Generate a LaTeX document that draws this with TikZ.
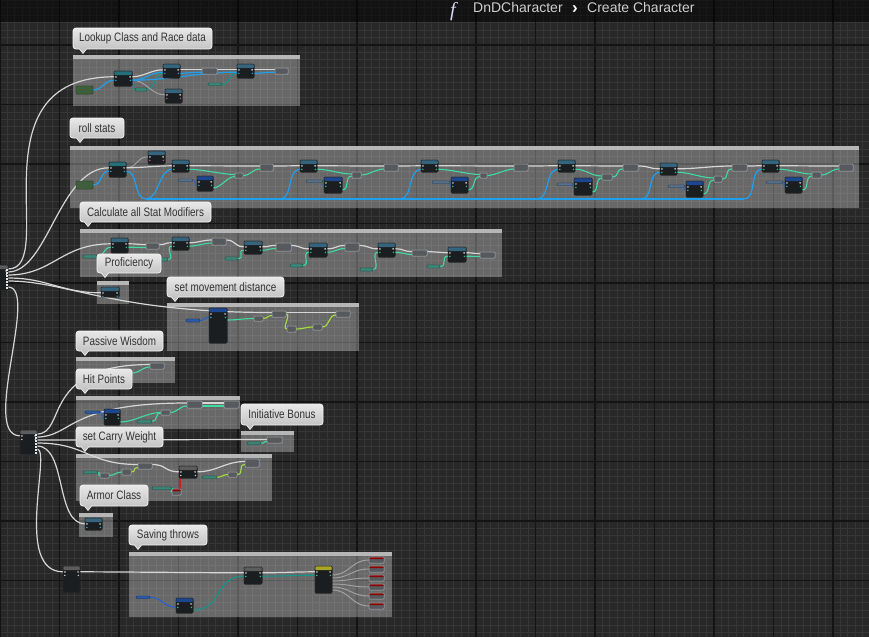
\documentclass[tikz,border=0pt]{standalone}
\usepackage{fontspec}
\setmainfont{Liberation Sans}
\newfontfamily\bubfont{Liberation Sans}[FakeStretch=0.81]
\newfontfamily\ficonfont{Liberation Serif}
\usetikzlibrary{calc}
\definecolor{bg}{HTML}{282828}
\definecolor{gmin}{HTML}{363636}
\definecolor{gmaj}{HTML}{141414}
\definecolor{ndbody}{HTML}{1B1E20}
\definecolor{hteal}{HTML}{23707A}
\definecolor{hsteel}{HTML}{35657E}
\definecolor{hblue}{HTML}{1D4690}
\definecolor{hgray}{HTML}{5C5C5C}
\definecolor{hyel}{HTML}{A8A622}
\definecolor{smfill}{HTML}{565A5E}
\definecolor{smedge}{HTML}{9A9C9E}
\definecolor{vgreen}{HTML}{3F5F3C}
\definecolor{vsteel}{HTML}{56708A}
\definecolor{vteal}{HTML}{3A8677}
\definecolor{vblue}{HTML}{2D5AA5}
\definecolor{wex}{HTML}{D6D6D6}
\definecolor{wblue}{HTML}{1FA0EE}
\definecolor{wmint}{HTML}{3FDCA2}
\definecolor{wyel}{HTML}{A5E03A}
\definecolor{wteal}{HTML}{12968A}
\definecolor{wdblue}{HTML}{2360D0}
\definecolor{wred}{HTML}{CC1F1F}
\definecolor{bubtop}{HTML}{E8E8E8}
\definecolor{bubbot}{HTML}{C4C4C4}
\definecolor{bubedge}{HTML}{F4F4F4}
\definecolor{bubtext}{HTML}{333333}
\definecolor{cmtbar}{HTML}{B6B6B6}
\definecolor{pinw}{HTML}{E6E6E6}
\definecolor{pinB}{HTML}{3AB5FF}
\definecolor{pinG}{HTML}{3FDCA2}
\definecolor{ficon}{HTML}{D4DAF8}
\definecolor{titc}{HTML}{CFCFCF}
\tikzset{
  nd/.style={draw=black!85, fill=ndbody, rounded corners=1pt, line width=0.5pt, inner sep=0pt, outer sep=0pt},
  hdr/.style 2 args={nd, path picture={
    \fill[#1] (path picture bounding box.north west) rectangle ([yshift=-4pt]path picture bounding box.north east);
    \fill[pinw] ([xshift=1pt,yshift=-5pt]path picture bounding box.north west) rectangle ++(1.8pt,-1.8pt);
    \fill[pinw] ([xshift=-2.8pt,yshift=-5pt]path picture bounding box.north east) rectangle ++(1.8pt,-1.8pt);
    \fill[#2] ([xshift=1pt,yshift=-8.5pt]path picture bounding box.north west) rectangle ++(1.5pt,-1.5pt);
    \fill[#2] ([xshift=-2.5pt,yshift=-8.5pt]path picture bounding box.north east) rectangle ++(1.5pt,-1.5pt);
  }},
  sm/.style={draw=smedge, fill=smfill, rounded corners=0.8pt, line width=0.5pt, inner sep=0pt, outer sep=0pt},
  smred/.style={sm, path picture={\fill[red!55!black] (path picture bounding box.north west) rectangle ([yshift=-2pt]path picture bounding box.north east);}},
  vr/.style={draw=#1!60!black, fill=#1, rounded corners=1.2pt, line width=0.4pt, inner sep=0pt, outer sep=0pt},
  cmt/.style={fill=white, fill opacity=0.3, draw=none, inner sep=0pt, outer sep=0pt},
  bubble/.style={top color=bubtop, bottom color=bubbot, draw=bubedge, line width=0.8pt, rounded corners=3pt, inner sep=0pt, outer sep=0pt, text=bubtext, font=\bubfont\fontsize{12.2}{13}\selectfont},
  ex/.style={draw=wex, line width=1.2pt},
  exd/.style={draw=wex!75!black, line width=1pt},
  wb/.style={draw=wblue, line width=1.2pt},
  wg/.style={draw=wmint, line width=1.1pt},
  wy/.style={draw=wyel, line width=1.1pt},
  wt/.style={draw=wteal, line width=1.1pt},
  wd/.style={draw=wdblue, line width=1.1pt},
  wbl/.style={draw=wdblue!80!vsteel, line width=1pt},
  wrd/.style={draw=wred, line width=1.1pt},
  gmn/.style={draw=gmin, line width=0.8pt},
  gmj/.style={draw=gmaj, line width=1.4pt}
}
\newcommand\bpbox[6]{%
  \node[#6, minimum width={(#4-#2)*1pt}, minimum height={(#5-#3)*1pt}] (#1) at ({(#2+#4)/2},{(#3+#5)/2}) {};%
  \coordinate (#1-ei) at ([yshift=-5.8pt]#1.north west);%
  \coordinate (#1-eo) at ([yshift=-5.8pt]#1.north east);%
  \coordinate (#1-di) at ([yshift=-9.2pt]#1.north west);%
  \coordinate (#1-do) at ([yshift=-9.2pt]#1.north east);}
\newcommand\bpcmt[5]{%
  \node[cmt, minimum width={(#4-#2)*1pt}, minimum height={(#5-#3)*1pt}] (#1) at ({(#2+#4)/2},{(#3+#5)/2}) {};%
  \fill[cmtbar] (#1.north west) rectangle ([yshift=-4pt]#1.north east);}
\newcommand\bpbub[7]{%
  \node[bubble, minimum width={(#4-#2)*1pt}, minimum height={(#5-#3)*1pt}] (#1) at ({(#2+#4)/2},{(#3+#5)/2}) {#7};%
  \filldraw[fill=bubbot, draw=bubedge, line width=0.6pt] ({#6-3.5},{#5+0.2}) -- ({#6},{#5+4.5}) -- ({#6+3.5},{#5+0.2});%
  \fill[bubbot] ({#6-3},{#5-0.6}) rectangle ({#6+3},{#5+0.3});}
\newcommand\bpw[4]{\draw[#1] (#2) .. controls +(#4,0) and +(-#4,0) .. (#3);}
\newcommand\allnodes{%
\bpbox{Q1}{-12}{265}{8}{290}{hdr={hgray}{pinw}}
\bpbox{Q2}{20}{430}{37}{454}{hdr={hgray}{pinw}}
\bpbox{L1}{76}{86}{93}{94}{vr=vgreen}
\bpbox{LA}{114}{71}{132}{86}{hdr={hteal}{pinB}}
\bpbox{LB}{163}{64}{180}{78}{hdr={hsteel}{pinB}}
\bpbox{Ls1}{202}{68}{217}{74}{sm}
\bpbox{LC}{237}{64}{254}{78}{hdr={hsteel}{pinB}}
\bpbox{Ls2}{275}{68}{288}{74}{sm}
\bpbox{LD}{165}{89}{182}{103}{hdr={hsteel}{magenta!70}}
\bpbox{Lv1}{135}{88}{147}{91}{vr=vteal}
\bpbox{Lv2}{208}{83}{222}{85.5}{vr=vteal}
\bpbox{R0}{76}{181}{93}{189}{vr=vgreen}
\bpbox{R1}{109}{162}{126}{177}{hdr={hteal}{pinB}}
\bpbox{R2}{148}{151}{165}{164}{hdr={hsteel}{magenta!70}}
\bpbox{N1}{172}{160}{189}{172}{hdr={hsteel}{pinG}}
\bpbox{V1}{178}{179}{193}{181.5}{vr=vsteel}
\bpbox{B1}{197}{176}{213}{191}{hdr={hblue}{pinG}}
\bpbox{M1}{235}{173}{243}{178}{sm}
\bpbox{S1}{260}{164}{273}{171}{sm}
\bpbox{N2}{300}{160}{317}{172}{hdr={hsteel}{pinG}}
\bpbox{V2}{306}{180}{323}{182.5}{vr=vsteel}
\bpbox{B2}{324}{177}{342}{193}{hdr={hblue}{pinG}}
\bpbox{M2}{352}{172}{361}{178}{sm}
\bpbox{S2}{384}{164}{398}{171}{sm}
\bpbox{N3}{421}{160}{438}{172}{hdr={hsteel}{pinG}}
\bpbox{V3}{432}{181}{450}{183.5}{vr=vsteel}
\bpbox{B3}{451}{177}{468}{193}{hdr={hblue}{pinG}}
\bpbox{M3}{480}{173}{487}{178}{sm}
\bpbox{S3}{514}{164}{528}{171}{sm}
\bpbox{N4}{558}{160}{575}{172}{hdr={hsteel}{pinG}}
\bpbox{V4}{557}{183}{573}{185.5}{vr=vsteel}
\bpbox{B4}{574}{178}{592}{195}{hdr={hblue}{pinG}}
\bpbox{M4}{602}{174}{612}{180}{sm}
\bpbox{S4}{623}{164}{638}{171}{sm}
\bpbox{N5}{660}{163}{677}{175}{hdr={hsteel}{pinG}}
\bpbox{V5}{668}{185}{685}{187.5}{vr=vsteel}
\bpbox{B5}{686}{181}{703}{197}{hdr={hblue}{pinG}}
\bpbox{M5}{714}{176}{722}{182}{sm}
\bpbox{S5}{732}{164}{747}{171}{sm}
\bpbox{N6}{762}{160}{779}{172}{hdr={hsteel}{pinG}}
\bpbox{V6}{766}{181}{783}{183.5}{vr=vsteel}
\bpbox{B6}{785}{177}{802}{193}{hdr={hblue}{pinG}}
\bpbox{M6}{812}{172}{821}{178}{sm}
\bpbox{S6}{839}{164}{853}{171}{sm}
\bpbox{K1}{111}{238}{128}{253}{hdr={hsteel}{pinG}}
\bpbox{KV1}{83}{255}{97}{258}{vr=vteal}
\bpbox{KS1}{146}{243}{159}{249}{sm}
\bpbox{K2}{172}{237}{189}{250}{hdr={hsteel}{pinG}}
\bpbox{KV2}{155}{258}{168}{261}{vr=vteal}
\bpbox{KS2}{212}{238}{226}{245}{sm}
\bpbox{K3}{244}{241}{262}{254}{hdr={hsteel}{pinG}}
\bpbox{KV3}{225}{257}{238}{260}{vr=vteal}
\bpbox{KS3}{276}{243}{291}{251}{sm}
\bpbox{K4}{309}{243}{327}{257}{hdr={hsteel}{pinG}}
\bpbox{KV4}{290}{264}{303}{267}{vr=vteal}
\bpbox{KS4}{345}{243}{359}{251}{sm}
\bpbox{K5}{378}{243}{395}{257}{hdr={hsteel}{pinG}}
\bpbox{KV5}{360}{268}{373}{271}{vr=vteal}
\bpbox{KS5}{412}{250}{427}{256}{sm}
\bpbox{K6}{448}{247}{466}{262}{hdr={hsteel}{pinG}}
\bpbox{KV6}{427}{265}{440}{268}{vr=vteal}
\bpbox{KS6}{480}{252}{495}{258}{sm}
\bpbox{P1}{101}{287}{119}{297}{hdr={hsteel}{pinB}}
\bpbox{Mv}{186}{319}{200}{322}{vr=vblue}
\bpbox{MT}{209}{308}{227}{343}{hdr={hblue}{pinG}}
\bpbox{Ms1}{254}{316}{263}{321}{sm}
\bpbox{Ms2}{272}{311}{286}{317}{sm}
\bpbox{Ms3}{287}{326}{296}{332}{sm}
\bpbox{Ms4}{313}{324}{322}{330}{sm}
\bpbox{Ms5}{336}{311}{350}{317}{sm}
\bpbox{Pw}{105}{371}{120}{374}{vr=vteal}
\bpbox{Ps1}{124}{370}{132}{376}{sm}
\bpbox{Ps2}{150}{363}{164}{369}{sm}
\bpbox{Hv}{85}{411}{100}{413.5}{vr=vblue}
\bpbox{HB}{104}{409}{120}{425}{hdr={hblue}{pinG}}
\bpbox{Hs1}{161}{410}{170}{415}{sm}
\bpbox{Hv2}{137}{420}{152}{423}{vr=vteal}
\bpbox{Hs2}{187}{401}{202}{408}{sm}
\bpbox{Hs3}{224}{401}{239}{408}{sm}
\bpbox{Is}{267}{437}{282}{443}{sm}
\bpbox{Iv}{247}{442}{261}{444.5}{vr=vteal}
\bpbox{Cv}{83}{471}{98}{473.5}{vr=vteal}
\bpbox{Cs1}{100}{473}{109}{478}{sm}
\bpbox{Cs2}{122}{469}{131}{475}{sm}
\bpbox{Cs3}{138}{463}{152}{469}{sm}
\bpbox{CN}{179}{466}{197}{478}{hdr={hgray}{pinw}}
\bpbox{Cv2}{152}{487}{172}{489.5}{vr=vteal}
\bpbox{Cs4}{172}{489}{181}{495}{smred}
\bpbox{Cv3}{202}{476}{217}{478.5}{vr=vteal}
\bpbox{Cs5}{228}{472}{237}{477}{sm}
\bpbox{Cs6}{245}{459}{259}{467}{sm}
\bpbox{A1}{85}{518}{102}{530}{hdr={hsteel}{pinB}}
\bpbox{S0}{63}{566}{80}{592}{hdr={hgray}{pinw}}
\bpbox{Sv}{136}{596}{150}{598.5}{vr=vblue}
\bpbox{SB}{176}{598}{193}{613}{hdr={hblue}{pinG}}
\bpbox{SN}{244}{567}{262}{584}{hdr={hgray}{pinG}}
\bpbox{SY}{315}{566}{332}{593}{hdr={hyel}{pinG}}
\foreach \k/\yy in {1/557,2/566,3/575,4/584,5/593,6/603}{
  \bpbox{Sr\k}{369}{\yy}{384}{\yy+6}{smred}
}}
\begin{document}
\begin{tikzpicture}[x=1pt,y=-1pt]
\useasboundingbox (0,0) rectangle (869,637);
% background and grid
\fill[bg] (0,0) rectangle (869,637);
\foreach \i in {0,...,117} \draw[gmn] ({\i*7.4375},0) -- ({\i*7.4375},637);
\foreach \j in {-6,...,80} \draw[gmn] (0,{45+\j*7.4375}) -- (869,{45+\j*7.4375});
\foreach \i in {0,...,14} \draw[gmj] ({\i*59.5},0) -- ({\i*59.5},637);
\foreach \j in {0,...,9} \draw[gmj] (0,{45+\j*59.5}) -- (869,{45+\j*59.5});
% top banner
\fill[black, opacity=0.55] (0,0) rectangle (869,22);
\node[anchor=base west, inner sep=0pt, text=ficon, font=\ficonfont\itshape\fontsize{20}{20}\selectfont] (fic) at (450,16.5) {f};
\node[anchor=base west, inner sep=0pt, text=titc, font=\fontsize{14}{14}\selectfont] (tt1) at (473,12.5) {DnDCharacter};
\node[anchor=base west, inner sep=0pt, text=white, font=\bfseries\fontsize{17}{17}\selectfont] (tt2) at (572,13) {›};
\node[anchor=base west, inner sep=0pt, text=titc, font=\fontsize{14}{14}\selectfont] (tt3) at (587,12.5) {Create Character};

% comment boxes
\bpcmt{C1}{73}{55}{300}{106}
\bpcmt{C2}{70}{146}{859}{208}
\bpcmt{C3}{80}{229}{502}{277}
\bpcmt{C4}{97}{281}{129}{304}
\bpcmt{C5}{167}{303}{359}{351}
\bpcmt{C6}{76}{357}{175}{383}
\bpcmt{C7}{76}{396}{240}{429}
\bpcmt{C8}{241}{431}{294}{452}
\bpcmt{C9}{76}{454}{272}{501}
\bpcmt{C10}{79}{513}{113}{537}
\bpcmt{C11}{129}{552}{392}{617}

% nodes first (for anchors)
\allnodes
\foreach \k/\n in {4/a,7/b,10/c,13/d,16/e,19/f,22/g} \coordinate (q1\n) at ([yshift=-\k pt]Q1.north east);
\foreach \k/\n in {4/a,7/b,10/c,13/d,16/e,19/f,22/g} \coordinate (q2\n) at ([yshift=-\k pt]Q2.north east);

% ---------- wires ----------
% from sequence 1
\draw[ex] (q1a) .. controls +(52,0) and +(-144,0) .. (LA-ei);
\draw[ex] (q1b) .. controls +(40,0) and +(-50,0) .. (R1-ei);
\draw[ex] (q1c) .. controls +(45,0) and +(-50,0) .. (K1-ei);
\draw[ex] (q1d) .. controls +(40,0) and +(-40,0) .. (P1-ei);
\draw[ex] (q1e) .. controls +(60,0) and +(-160,0) .. ([yshift=1.5pt]Ms2.west);
\draw[ex] (q1g) .. controls +(32,0) and +(-40,0) .. (Q2-ei);
% from sequence 2
\draw[ex] (q2a) .. controls +(30,0) and +(-110,0) .. ([yshift=1.5pt]Ps2.west);
\draw[ex] (q2b) .. controls +(35,0) and +(-120,0) .. ([yshift=1.5pt]Hs2.west);
\draw[ex] (q2c) .. controls +(60,0) and +(-60,0) .. ([yshift=0.5pt]Is.west);
\draw[ex] (q2d) .. controls +(50,0) and +(-50,0) .. ([yshift=1.5pt]Cs3.west);
\draw[ex] (q2e) .. controls +(30,0) and +(-30,0) .. (A1-ei);
\draw[ex] (q2f) .. controls +(15,0) and +(-50,0) .. (S0-ei);

% Lookup wires
\bpw{wt}{[yshift=-12pt]LA.north east}{Lv1.west}{4}
\bpw{wt}{Lv1.east}{LB-di}{8}
\bpw{wt}{Lv2.east}{LC-di}{8}
\bpw{exd}{LA-do}{LD-ei}{15}
\bpw{wb}{L1.east}{LA-di}{10}
\bpw{wb}{LA-do}{[yshift=1pt]LB-di}{14}
\bpw{wb}{LA-do}{[yshift=1pt]LC-di}{40}
\bpw{wb}{LB-do}{[yshift=-1.2pt]Ls1.west}{8}
\bpw{wb}{LC-do}{[yshift=-1.2pt]Ls2.west}{8}
\bpw{ex}{LA-eo}{LB-ei}{12}
\bpw{ex}{LB-eo}{[yshift=1.2pt]Ls1.west}{10}
\bpw{ex}{[yshift=1.2pt]Ls1.east}{LC-ei}{10}
\bpw{ex}{LC-eo}{[yshift=1.2pt]Ls2.west}{10}

% Roll stats wires
\coordinate (rb0) at (146,199);
\coordinate (rb1) at (280,199);
\coordinate (rb2) at (400,199);
\coordinate (rb3) at (537,199);
\coordinate (rb4) at (641,199);
\coordinate (rb5) at (744,199);
\bpw{wb}{R0.east}{R1-di}{10}
\bpw{wb}{R1-do}{rb0}{13}
\bpw{wb}{rb0}{N1-di}{13}
\draw[wb] (rb0) -- (rb5);
\bpw{wb}{rb1}{N2-di}{13}
\bpw{wb}{rb2}{N3-di}{13}
\bpw{wb}{rb3}{N4-di}{13}
\bpw{wb}{rb4}{N5-di}{13}
\bpw{wb}{rb5}{N6-di}{13}
\bpw{exd}{R1-eo}{R2-ei}{12}
\bpw{ex}{R1-eo}{N1-ei}{15}
\foreach \i/\j in {1/2,2/3,3/4,4/5,5/6}{
  \bpw{ex}{[yshift=1.5pt]S\i.east}{N\j-ei}{12}
}
\foreach \i in {1,...,6}{
  \bpw{wbl}{V\i.east}{B\i-di}{4}
  \bpw{wg}{N\i-do}{[yshift=1pt]M\i.west}{12}
  \bpw{wg}{[yshift=3pt]B\i.south east}{[yshift=-1pt]M\i.west}{8}
  \bpw{wg}{M\i.east}{[yshift=-1.5pt]S\i.west}{8}
  \bpw{ex}{N\i-eo}{[yshift=1.5pt]S\i.west}{20}
}

% Calc stat modifier wires
\foreach \i in {1,...,6}{
  \bpw{wg}{KV\i.east}{K\i-di}{8}
  \bpw{wg}{K\i-do}{[yshift=-1.5pt]KS\i.west}{8}
  \bpw{ex}{K\i-eo}{[yshift=1.5pt]KS\i.west}{10}
}
\foreach \i/\j in {1/2,2/3,3/4,4/5,5/6}{
  \bpw{ex}{[yshift=1.5pt]KS\i.east}{K\j-ei}{10}
}

% movement wires
\bpw{wd}{Mv.east}{MT-di}{6}
\bpw{wg}{[yshift=-12pt]MT.north east}{Ms1.west}{10}
\bpw{wy}{Ms1.east}{[yshift=-1.5pt]Ms2.west}{5}
\bpw{wy}{Ms2.east}{Ms3.west}{6}
\bpw{wy}{Ms3.east}{Ms4.west}{8}
\bpw{wy}{Ms4.east}{[yshift=-1pt]Ms5.west}{8}
\bpw{ex}{[yshift=1.5pt]Ms2.east}{[yshift=1.5pt]Ms5.west}{15}

% passive wisdom
\bpw{wg}{Pw.east}{Ps1.west}{3}
\bpw{wg}{Ps1.east}{[yshift=-1pt]Ps2.west}{8}

% hit points
\bpw{wd}{Hv.east}{HB-di}{3}
\bpw{wg}{[yshift=3pt]HB.south east}{Hs1.west}{15}
\bpw{wg}{Hv2.east}{Hs1.west}{6}
\bpw{wg}{Hs1.east}{[yshift=-1.5pt]Hs2.west}{8}
\bpw{ex}{[yshift=1.5pt]Hs2.east}{[yshift=1.5pt]Hs3.west}{10}
\bpw{wg}{[yshift=-1.5pt]Hs2.east}{[yshift=-1.5pt]Hs3.west}{10}

% initiative
\bpw{wg}{Iv.east}{[yshift=-1.5pt]Is.west}{4}

% carry weight
\bpw{wg}{Cv.east}{Cs1.west}{3}
\bpw{wg}{Cs1.east}{Cs2.west}{6}
\bpw{wy}{Cs2.east}{[yshift=-1.5pt]Cs3.west}{6}
\bpw{ex}{[yshift=1.5pt]Cs3.east}{CN-ei}{15}
\bpw{wg}{Cv2.east}{Cs4.west}{3}
\draw[wrd] ([xshift=3.5pt]Cs4.north) -- ([xshift=3.5pt]Cs4.north |- CN.south);
\bpw{ex}{CN-eo}{[yshift=1.5pt]Cs6.west}{20}
\bpw{wy}{Cv3.east}{Cs5.west}{5}
\bpw{wy}{Cs5.east}{[yshift=-1.5pt]Cs6.west}{8}

% saving throws
\bpw{ex}{S0-eo}{SN-ei}{30}
\bpw{ex}{SN-eo}{SY-ei}{20}
\bpw{wd}{Sv.east}{SB-di}{12}
\bpw{wt}{[yshift=3pt]SB.south east}{SN-di}{30}
\bpw{wt}{SN-do}{SY-di}{20}
\foreach \k in {1,...,6}{
  \bpw{exd}{[yshift={-(6+\k*3)*1pt}]SY.north east}{Sr\k.west}{18}
}

% ---------- nodes again, on top of the wires ----------
\allnodes
\foreach \k in {4,7,10,13,16,19,22}{
  \fill[pinw] ([yshift=-\k pt]Q1.north east) rectangle ++(-2pt,-1.5pt);
  \fill[pinw] ([yshift=-\k pt]Q2.north east) rectangle ++(-2pt,-1.5pt);
}

% ---------- comment bubbles ----------
\bpbub{T1}{73}{28}{212}{49}{83}{Lookup Class and Race data}
\bpbub{T2}{70}{118}{124}{138}{80}{roll stats}
\bpbub{T3}{80}{202}{211}{222}{88}{Calculate all Stat Modifiers}
\bpbub{T4}{97}{254}{161}{273}{105}{Proficiency}
\bpbub{T5}{167}{277}{284}{297}{175}{set movement distance}
\bpbub{T6}{76}{331}{163}{351}{85}{Passive Wisdom}
\bpbub{T7}{76}{369}{132}{389}{85}{Hit Points}
\bpbub{T8}{241}{404}{323}{425}{250}{Initiative Bonus}
\bpbub{T9}{76}{427}{163}{447}{85}{set Carry Weight}
\bpbub{T10}{80}{485}{148}{506}{88}{Armor Class}
\bpbub{T11}{129}{525}{207}{545}{138}{Saving throws}
\end{tikzpicture}
\end{document}
